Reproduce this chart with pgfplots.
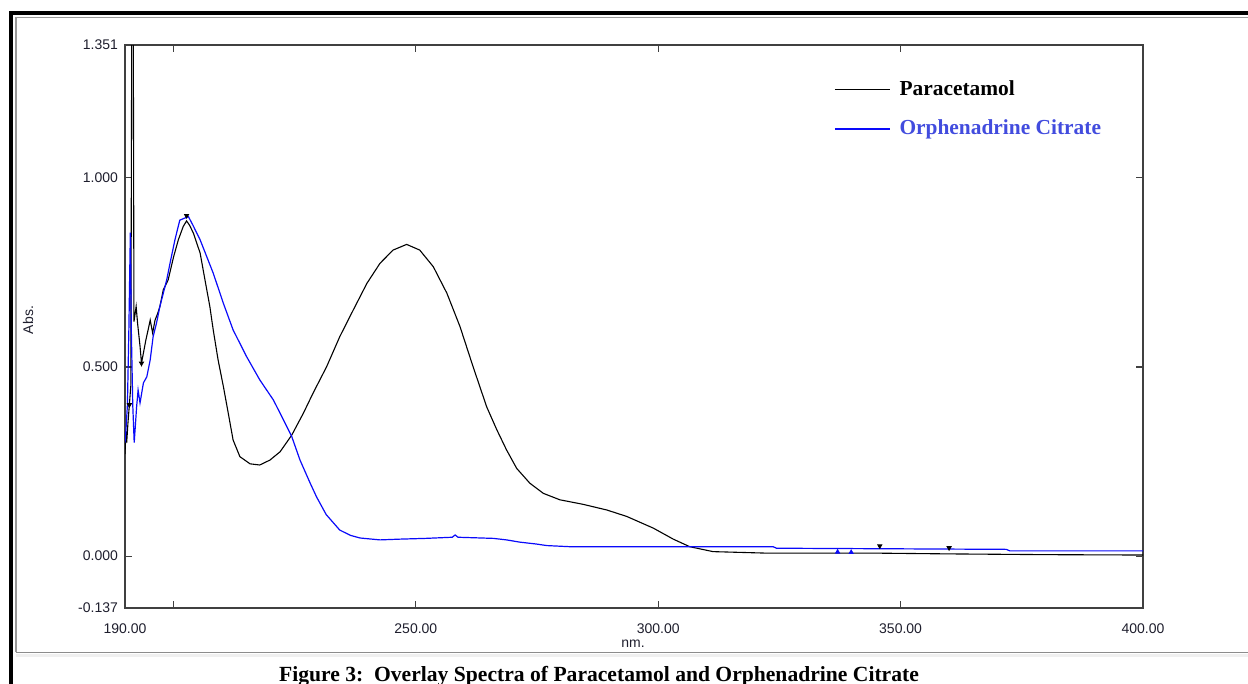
\documentclass[border=0pt]{standalone}
\usepackage{fontspec}
\setmainfont{Liberation Serif}
\newfontfamily\arial{Liberation Sans}
\usepackage{pgfplots}
\pgfplotsset{compat=1.18}

\definecolor{spblue}{RGB}{10,10,250}
\definecolor{legblue}{RGB}{66,76,222}
\definecolor{axgray}{RGB}{64,64,64}
\definecolor{lbl}{RGB}{30,30,45}

\newcommand{\tickfont}{\arial\fontsize{7}{8}\selectfont}

\begin{document}
\begin{tikzpicture}[x=0.5pt,y=-0.5pt]
\path[use as bounding box] (0,0) rectangle (1248,684);
% page frame of the screenshot
\draw[line width=2pt] (11,684) -- (11,13.3) -- (1248,13.3);
\draw[black!40, line width=0.75pt] (16,652) -- (16,17.5) -- (1248,17.5);
\fill[black!6] (16,653.5) rectangle (1248,657);
\draw[black!45, line width=0.6pt] (16,652.5) -- (1248,652.5);

\begin{axis}[
  at={(62.5pt,-304pt)}, anchor=south west,
  scale only axis, width=509pt, height=281.5pt,
  xmin=190, xmax=400, ymin=-0.137, ymax=1.351,
  axis line style={axgray, line width=0.75pt},
  tick align=inside, major tick length=3.3pt,
  tick style={axgray, line width=0.6pt},
  xtick={190,200,250,300,350,400},
  xticklabels={190.00,,250.00,300.00,350.00,400.00},
  ytick={-0.137,0,0.5,1,1.351},
  yticklabels={-0.137,0.000,0.500,1.000,1.351},
  ticklabel style={font=\tickfont, text=lbl},
  xticklabel style={yshift=-4.5pt},
  legend style={draw=none, fill=none, at={(0.6905,0.9524)}, anchor=north west,
    font=\bfseries\fontsize{10.7}{12}\selectfont, row sep=7pt},
  legend cell align=left,
  legend image code/.code={\draw[#1] (0pt,0pt) -- (27.5pt,0pt); \path (30pt,0pt);},
]
% Paracetamol
\addplot[black, line width=0.55pt] coordinates {
(190.0,0.27) (190.2,0.33) (190.35,0.30) (190.6,0.35) (190.9,0.40) (191.2,0.45)
(191.4,1.45) (191.7,1.45) (191.85,0.62) (192.3,0.66) (192.6,0.615) (193.1,0.555)
(193.4,0.51) (193.8,0.537) (194.3,0.571) (194.8,0.60) (195.2,0.624) (195.7,0.59)
(196.2,0.624) (196.7,0.64) (197.2,0.66) (197.9,0.704) (198.9,0.73) (200.0,0.79)
(201.0,0.836) (202.0,0.871) (202.7,0.886) (203.3,0.875) (204.1,0.854) (205.5,0.801)
(206.5,0.730) (207.5,0.66) (208.2,0.598) (209.2,0.519) (210.3,0.448) (211.3,0.378)
(212.3,0.307) (213.7,0.263) (215.8,0.244) (217.8,0.241) (219.9,0.254) (222.0,0.276)
(224.4,0.320) (226.8,0.378) (228.8,0.431) (231.6,0.501) (234.3,0.580) (237.1,0.651)
(239.9,0.721) (242.6,0.774) (245.3,0.809) (248.1,0.824) (250.8,0.809) (253.6,0.765)
(256.4,0.695) (259.1,0.607) (261.8,0.501) (264.6,0.395) (266.7,0.334) (268.7,0.281)
(270.8,0.232) (273.5,0.193) (276.3,0.166) (279.7,0.149) (284.5,0.137) (289.4,0.122)
(293.5,0.105) (299.0,0.074) (303.1,0.045) (306.5,0.025) (311.3,0.012) (322.4,0.008)
(345.0,0.008) (360.0,0.006) (380.0,0.004) (400.0,0.003)
};
\addlegendentry{Paracetamol}
% Orphenadrine Citrate
\addplot[spblue, line width=0.6pt] coordinates {
(190.0,0.30) (190.2,0.334) (190.5,0.40) (190.8,0.60) (191.1,0.855) (191.3,0.60)
(191.6,0.40) (191.9,0.30) (192.4,0.395) (192.7,0.439) (193.1,0.405) (193.8,0.458)
(194.5,0.474) (195.2,0.519) (195.8,0.580) (196.5,0.616) (197.2,0.66) (197.9,0.695)
(198.6,0.730) (199.3,0.775) (200.3,0.836) (201.3,0.888) (202.4,0.894) (203.1,0.897)
(204.0,0.875) (205.5,0.836) (208.2,0.748) (210.3,0.668) (212.3,0.598) (215.1,0.527)
(217.8,0.466) (220.6,0.413) (222.7,0.360) (224.4,0.316) (226.1,0.254) (228.2,0.193)
(229.5,0.157) (231.5,0.11) (234.3,0.069) (236.5,0.055) (238.5,0.048) (242.6,0.043)
(246.7,0.045) (252.0,0.047) (257.5,0.050) (258.1,0.056) (258.7,0.050) (266.0,0.047)
(268.7,0.043) (271.5,0.037) (274.9,0.032) (277.0,0.028) (281.8,0.025) (323.7,0.025)
(324.4,0.021) (371.8,0.018) (372.5,0.014) (400.0,0.014)
};
\addlegendentry{\textcolor{legblue}{Orphenadrine Citrate}}
% peak / valley picks
\addplot[only marks, black, mark=triangle*, mark options={rotate=180}, mark size=1.2pt, forget plot]
  coordinates {(202.7,0.90) (345.7,0.027) (360.0,0.022) (193.4,0.51) (190.9,0.40)};
\addplot[only marks, spblue, mark=triangle*, mark size=1.2pt, forget plot]
  coordinates {(337.0,0.011) (339.8,0.010)};
\end{axis}

\node[font=\tickfont, text=lbl] at (633,644) {nm.};
\node[font=\tickfont, text=lbl, rotate=90] at (28,320) {Abs.};
\node[font=\bfseries\fontsize{10.8}{13}\selectfont, anchor=base] at (599,681)
  {Figure 3:\ \ Overlay Spectra of Paracetamol and Orphenadrine Citrate};
\end{tikzpicture}
\end{document}
